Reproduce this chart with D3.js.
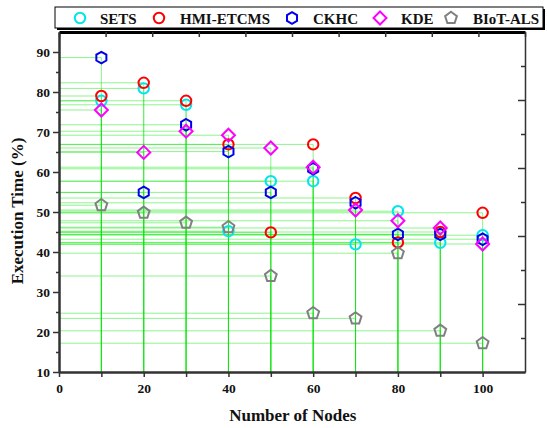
<!DOCTYPE html>
<html>
<head>
<meta charset="utf-8">
<script src="https://cdn.jsdelivr.net/npm/d3@7"></script>
<style>
  body { margin: 0; background: #fff; }
  text { font-family: "Liberation Serif", "Times New Roman", serif; font-weight: bold; }
</style>
</head>
<body>
<div id="chart"></div>
<script>
const nodes = [10, 20, 30, 40, 50, 60, 70, 80, 90, 100];
const sets     = [77.8, 80.9, 76.8, 45.2, 57.7, 57.7, 41.9, 50.2, 42.3, 44.2];
const hmiEtcms = [79.0, 82.3, 77.8, 66.9, 44.9, 66.9, 53.5, 42.4, 45.0, 49.8];
const ckhc     = [88.6, 54.9, 71.8, 65.1, 54.9, 60.8, 52.3, 44.4, 44.4, 43.2];
const kde      = [75.5, 64.9, 70.2, 69.2, 66.0, 61.2, 50.5, 47.8, 46.0, 42.0];
const biotAls  = [51.7, 49.8, 47.3, 46.2, 34.0, 24.7, 23.4, 39.7, 20.3, 17.2];
const yTicks = [10, 20, 30, 40, 50, 60, 70, 80, 90];
const xTicks = [0, 20, 40, 60, 80, 100];

const series = [
  { name: 'SETS', values: sets, color: '#00e5ee', shape: 'circle' },
  { name: 'HMI-ETCMS', values: hmiEtcms, color: '#ff0000', shape: 'circle' },
  { name: 'CKHC', values: ckhc, color: '#0000ee', shape: 'hexagon' },
  { name: 'KDE', values: kde, color: '#ff00ff', shape: 'diamond' },
  { name: 'BIoT-ALS', values: biotAls, color: '#808080', shape: 'pentagon' }
];

const width = 547, height = 428;
const plotL = 59, plotR = 525, plotT = 32, plotB = 372;

const svg = d3.select('#chart').append('svg')
  .attr('width', width)
  .attr('height', height);

const x = d3.scaleLinear().domain([0, 110]).range([plotL, plotR]);
const y = d3.scaleLinear().domain([10, 95]).range([plotB, plotT]);
// top and right frame axes are 0..100 with no labels
const xTop = d3.scaleLinear().domain([0, 100]).range([plotL, plotR]);
const yRight = d3.scaleLinear().domain([0, 100]).range([plotB, plotT]);

// drop lines
const drops = svg.append('g').attr('stroke', '#00e400').attr('stroke-opacity', 0.45).attr('stroke-width', 1);
series.forEach(s => {
  s.values.forEach((v, i) => {
    drops.append('line')
      .attr('x1', x(nodes[i])).attr('x2', x(nodes[i]))
      .attr('y1', y(v)).attr('y2', plotB);
    drops.append('line')
      .attr('x1', plotL).attr('x2', x(nodes[i]))
      .attr('y1', y(v)).attr('y2', y(v));
  });
});

// axes
function styleAxis(g, w) {
  g.select('.domain').attr('stroke', '#333').attr('stroke-width', w);
  g.selectAll('.tick line').attr('stroke', '#333').attr('stroke-width', 1.5);
  g.selectAll('.tick text').attr('fill', '#111').style('font-size', '13.5px');
}

const yAxis = svg.append('g').attr('transform', `translate(${plotL},0)`)
  .call(d3.axisLeft(y).tickValues(yTicks).tickSize(6).tickSizeOuter(0).tickPadding(3));
svg.append('g').attr('transform', `translate(${plotL},0)`)
  .call(d3.axisLeft(y).tickValues(d3.range(15, 95, 10)).tickSize(3).tickFormat('').tickSizeOuter(0))
  .call(g => styleAxis(g, 2));
styleAxis(yAxis, 2);

const xAxis = svg.append('g').attr('transform', `translate(0,${plotB})`)
  .call(d3.axisBottom(x).tickValues(xTicks).tickSize(5).tickSizeOuter(0).tickPadding(6));
svg.append('g').attr('transform', `translate(0,${plotB})`)
  .call(d3.axisBottom(x).tickValues(d3.range(10, 110, 20)).tickSize(5).tickFormat('').tickSizeOuter(0))
  .call(g => styleAxis(g, 2));
styleAxis(xAxis, 2);

const topAxis = svg.append('g').attr('transform', `translate(0,${plotT})`)
  .call(d3.axisBottom(xTop).ticks(10).tickSize(5).tickFormat('').tickSizeOuter(0));
topAxis.select('.domain').attr('stroke', '#000').attr('stroke-width', 3);
topAxis.selectAll('.tick line').attr('stroke', '#333').attr('stroke-width', 1.5);

const rightAxis = svg.append('g').attr('transform', `translate(${plotR},0)`)
  .call(d3.axisLeft(yRight).tickValues([20, 40, 60, 80]).tickSize(7).tickFormat('').tickSizeOuter(0));
svg.append('g').attr('transform', `translate(${plotR},0)`)
  .call(d3.axisLeft(yRight).tickValues([10, 30, 50, 70, 90]).tickSize(4).tickFormat('').tickSizeOuter(0))
  .call(g => { g.select('.domain').remove(); g.selectAll('.tick line').attr('stroke', '#333').attr('stroke-width', 1.5); });
rightAxis.select('.domain').attr('stroke', '#333').attr('stroke-width', 1.5);
rightAxis.selectAll('.tick line').attr('stroke', '#333').attr('stroke-width', 1.5);

// marker shapes
function polygon(n, r, rot) {
  const pts = [];
  for (let k = 0; k < n; k++) {
    const a = rot + k * 2 * Math.PI / n;
    pts.push([r * Math.cos(a), r * Math.sin(a)]);
  }
  return 'M' + pts.map(p => p.join(',')).join('L') + 'Z';
}
function shapePath(shape) {
  if (shape === 'circle') return d3.symbol(d3.symbolCircle, 85)();
  if (shape === 'hexagon') return polygon(6, 5.8, -Math.PI / 2);
  if (shape === 'diamond') return polygon(4, 6.5, -Math.PI / 2);
  return polygon(5, 6.2, -Math.PI / 2);
}

series.forEach(s => {
  svg.append('g').selectAll('path')
    .data(s.values)
    .join('path')
    .attr('d', shapePath(s.shape))
    .attr('transform', (d, i) => `translate(${x(nodes[i])},${y(d)})`)
    .attr('fill', 'none')
    .attr('stroke', s.color)
    .attr('stroke-width', 2);
});

// legend
const leg = svg.append('g');
leg.append('rect').attr('x', 57).attr('y', 9).attr('width', 488).attr('height', 21).attr('fill', '#000');
leg.append('rect').attr('x', 55).attr('y', 7).attr('width', 488).attr('height', 21)
  .attr('fill', '#fff').attr('stroke', '#000').attr('stroke-width', 1);
const legX = [80, 159, 292, 380, 451];
const legTx = [100, 180, 313, 401, 473];
series.forEach((s, i) => {
  leg.append('path').attr('d', shapePath(s.shape))
    .attr('transform', `translate(${legX[i]},18)`)
    .attr('fill', 'none').attr('stroke', s.color).attr('stroke-width', 2);
  leg.append('text').attr('x', legTx[i]).attr('y', 23.5)
    .style('font-size', '15px').attr('fill', '#111').text(s.name);
});

// axis titles
svg.append('text').attr('x', (plotL + x(100)) / 2 + 22).attr('y', 421)
  .attr('text-anchor', 'middle').style('font-size', '17px').attr('fill', '#111')
  .text('Number of Nodes');
svg.append('text').attr('transform', 'translate(23,211) rotate(-90)')
  .attr('text-anchor', 'middle').style('font-size', '17px').attr('fill', '#111')
  .text('Execution Time (%)');
</script>
</body>
</html>
